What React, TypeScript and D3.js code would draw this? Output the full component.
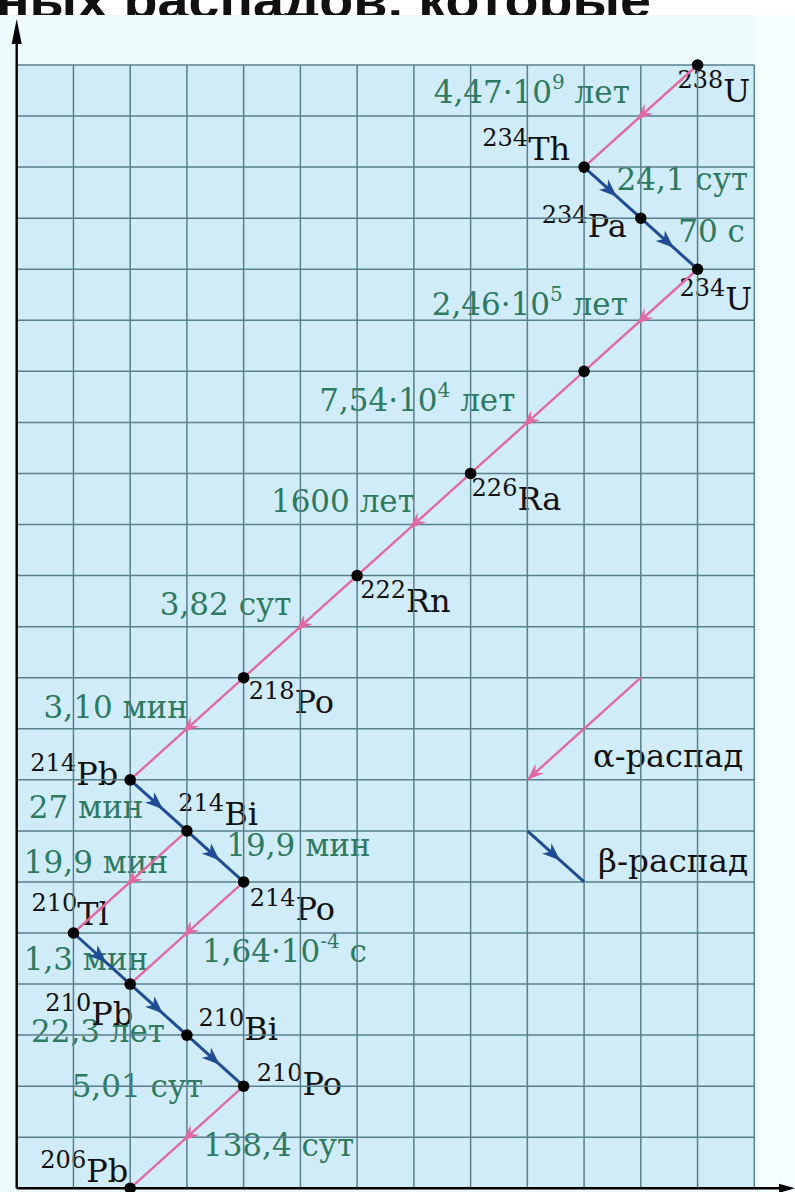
import React from 'react';
import * as d3 from 'd3';

const W = 795;
const H = 1192;

// chart data: Z runs across, N = A - Z runs up
const zDomain = [80, 93];
const nDomain = [124, 146];

const nuclideElement = ['U', 'Th', 'Pa', 'U', 'Th', 'Ra', 'Rn', 'Po', 'Pb', 'Bi', 'Po', 'Tl', 'Pb', 'Bi', 'Po', 'Pb'];
const nuclideMass = [238, 234, 234, 234, 230, 226, 222, 218, 214, 214, 214, 210, 210, 210, 210, 206];
const nuclideZ = [92, 90, 91, 92, 90, 88, 86, 84, 82, 83, 84, 81, 82, 83, 84, 82];
const nuclideShown = [true, true, true, true, false, true, true, true, true, true, true, true, true, true, true, true];

const decayFrom = [0, 1, 2, 3, 4, 5, 6, 7, 8, 9, 9, 10, 11, 12, 13, 14];
const decayTo = [1, 2, 3, 4, 5, 6, 7, 8, 9, 10, 11, 12, 12, 13, 14, 15];
const decayKind = ['a', 'b', 'b', 'a', 'a', 'a', 'a', 'a', 'b', 'b', 'a', 'a', 'b', 'b', 'b', 'a'];
const halfLife = [
  '4,47·10^9 лет', '24,1 сут', '70 с', '2,46·10^5 лет', '7,54·10^4 лет', '1600 лет',
  '3,82 сут', '3,10 мин', '27 мин', '19,9 мин', '19,9 мин', '1,64·10^-4 с',
  '1,3 мин', '22,3 лет', '5,01 сут', '138,4 сут',
];

const legendKind = ['a', 'b'];
const legendLabel = ['α-распад', 'β-распад'];
const legendFrom = [[91, 134], [89, 131]];
const legendTo = [[89, 132], [90, 130]];

const titleText = 'ных распадов, которые';

// layout: label offsets in px from the point / line middle
const nuclideLabelPos: [number, number, string][] = [
  [-20, 37, 'start'], [-14, -7, 'end'], [-14, 18.5, 'end'], [-18, 41, 'start'],
  [0, 0, 'start'], [1, 36.5, 'start'], [3, 36, 'start'], [5, 35.5, 'start'],
  [-12, 5, 'end'], [-8.6, -6, 'start'], [6, 38, 'start'], [-42, -8, 'start'],
  [3, 41, 'end'], [11.5, 5, 'start'], [13, 9, 'start'], [-2, -6.5, 'end'],
];
const halfLifePos: [number, number, string][] = [
  [-11, -13, 'end'], [4, -2.6, 'start'], [9, -2, 'start'], [-13, -5, 'end'],
  [-12, -11, 'end'], [1, -13, 'end'], [-9, -12, 'end'], [1, -10.5, 'end'],
  [-15, 13, 'end'], [11, 0, 'start'], [38, -9, 'end'], [15, 29, 'start'],
  [46.5, 11.5, 'end'], [6.5, 32, 'end'], [-12, 36, 'end'], [16, 19, 'start'],
];
const legendTextPos = [[9, -13], [14, -10]];

const left = 16.7, right = 754.3, top = 65, bottom = 1188.3;
const x = d3.scaleLinear().domain(zDomain).range([left, right]);
const y = d3.scaleLinear().domain(nDomain).range([bottom, top]);

const pink = '#e06aa2';
const blue = '#1f4c94';
const green = '#2e7a60';
const serif = '"DejaVu Serif", serif';

function arrowHead(tx: number, ty: number, ux: number, uy: number, len: number, hw: number, notch: number) {
  const bx = tx - ux * len, by = ty - uy * len;
  const px = -uy, py = ux;
  const nx = tx - ux * (len - notch), ny = ty - uy * (len - notch);
  return `M${tx},${ty}L${bx + px * hw},${by + py * hw}L${nx},${ny}L${bx - px * hw},${by - py * hw}Z`;
}

function Arrow({ x1, y1, x2, y2, kind, atEnd }: any) {
  const dx = x2 - x1, dy = y2 - y1;
  const l = Math.hypot(dx, dy);
  const ux = dx / l, uy = dy / l;
  const color = kind === 'a' ? pink : blue;
  const tx = atEnd ? x2 : (x1 + x2) / 2 + ux * 6;
  const ty = atEnd ? y2 : (y1 + y2) / 2 + uy * 6;
  return (
    <g>
      <line x1={x1} y1={y1} x2={x2} y2={y2} stroke={color} strokeWidth={kind === 'a' ? 2.4 : 3} />
      <path d={arrowHead(tx, ty, ux, uy, kind === 'a' ? 17 : 18, kind === 'a' ? 6.5 : 7, kind === 'a' ? 6 : 5)} fill={color} />
    </g>
  );
}

function SupText({ text, ...rest }: any) {
  const m = text.match(/^(.*?)\^(\S+)(.*)$/);
  if (!m) return <text {...rest}>{text}</text>;
  return (
    <text {...rest}>
      <tspan>{m[1]}</tspan>
      <tspan fontSize={20} dy={-14}>{m[2]}</tspan>
      <tspan dy={14}>{m[3]}</tspan>
    </text>
  );
}

export default function App() {
  const pts = nuclideZ.map((z, i) => ({ px: x(z), py: y(nuclideMass[i] - z) }));
  const cols = d3.range(zDomain[0], zDomain[1] + 1);
  const rows = d3.range(nDomain[0], nDomain[1] + 1);

  return (
    <svg width={W} height={H} viewBox={`0 0 ${W} ${H}`} style={{ position: 'absolute', left: 0, top: 0 }}>
      <rect x={0} y={0} width={W} height={H} fill="#fff" />
      <text x={-4} y={18} fontFamily='"Liberation Sans", Arial, sans-serif' fontWeight="bold" fontSize={52}
        textLength={655} lengthAdjust="spacingAndGlyphs" fill="#111">{titleText}</text>
      <rect x={0} y={15} width={W} height={H - 15} fill="#edfbfd" />
      <rect x={right} y={15} width={W - right} height={H - 15} fill="#f3fefe" />
      <rect x={left} y={top} width={right - left} height={bottom - top} fill="#d1ecf9" />

      {decayFrom.map((f, i) => {
        const a = pts[f], b = pts[decayTo[i]];
        const [ox, oy, anchor] = halfLifePos[i];
        return (
          <SupText key={'h' + i} text={halfLife[i]} x={(a.px + b.px) / 2 + ox} y={(a.py + b.py) / 2 + oy}
            textAnchor={anchor} fontFamily={serif} fontSize={31} fill={green} />
        );
      })}

      {pts.map((p, i) => {
        if (!nuclideShown[i]) return null;
        const [ox, oy, anchor] = nuclideLabelPos[i];
        return (
          <text key={'n' + i} x={p.px + ox} y={p.py + oy} textAnchor={anchor} fontFamily={serif} fill="#111">
            <tspan fontSize={24} dy={-14}>{nuclideMass[i]}</tspan>
            <tspan fontSize={32} dy={14}>{nuclideElement[i]}</tspan>
          </text>
        );
      })}

      {legendLabel.map((t, i) => (
        <text key={'lt' + i} x={x(legendFrom[1][0] + 1) + legendTextPos[i][0]}
          y={y(legendTo[i][1]) + legendTextPos[i][1]}
          fontFamily={serif} fontSize={31} textLength={150} lengthAdjust="spacingAndGlyphs" fill="#111">{t}</text>
      ))}

      <g stroke="#587f8c" strokeWidth={1.5}>
        {cols.map(c => <line key={'c' + c} x1={x(c)} x2={x(c)} y1={top} y2={bottom} />)}
        {rows.map(r => <line key={'r' + r} x1={left} x2={right} y1={y(r)} y2={y(r)} />)}
      </g>

      <g stroke="#000" strokeWidth={2.4}>
        <line x1={left} x2={left} y1={bottom} y2={30} />
        <line x1={left} x2={784} y1={bottom} y2={bottom} />
      </g>
      <path d={`M${left},19L${left - 5},44L${left + 5},44Z`} fill="#000" />
      <path d={`M795,${bottom}L779,${bottom - 4.5}L779,${bottom + 4.5}Z`} fill="#000" />

      {decayFrom.map((f, i) => {
        const a = pts[f], b = pts[decayTo[i]];
        return <Arrow key={'d' + i} x1={a.px} y1={a.py} x2={b.px} y2={b.py} kind={decayKind[i]} />;
      })}

      {legendKind.map((k, i) => (
        <Arrow key={'l' + i} x1={x(legendFrom[i][0])} y1={y(legendFrom[i][1])} x2={x(legendTo[i][0])} y2={y(legendTo[i][1])}
          kind={k} atEnd={k === 'a'} />
      ))}

      {pts.map((p, i) => <circle key={'p' + i} cx={p.px} cy={p.py} r={5.8} fill="#000" />)}
    </svg>
  );
}
